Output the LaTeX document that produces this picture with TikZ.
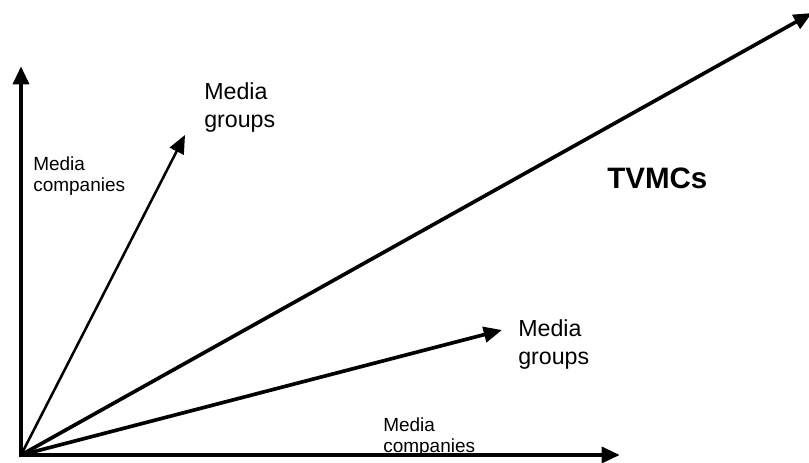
\documentclass[tikz,border=0pt]{standalone}
\usepackage{fontspec}
\setmainfont{Liberation Sans}
\usetikzlibrary{arrows.meta}
\begin{document}
\begin{tikzpicture}[x=0.025cm,y=0.025cm,
  axis/.style={line width=3.3pt,{Triangle[length=13pt,width=11pt]}-{Triangle[length=13pt,width=11pt]}},
  vec/.style={line width=2.6pt,-{Triangle[length=13pt,width=11pt]}},
  smalllab/.style={anchor=north west,inner sep=0pt,align=left,font=\fontsize{13.5}{15.5}\selectfont},
  biglab/.style={anchor=north west,inner sep=0pt,align=left,font=\fontsize{16.5}{20}\selectfont}]
\useasboundingbox (0,0) rectangle (809,462);
\coordinate (O) at (21,7);
\coordinate (ytip) at (21,396);
\coordinate (xtip) at (620,7);
\coordinate (grouptip) at (185,327);
\coordinate (tvtip) at (812,449);
\coordinate (lowtip) at (502,132);
% axes
\draw[axis] (ytip) -- (O) -- (xtip);
% vectors
\draw[vec,line width=1.8pt] (O) -- (grouptip);
\draw[vec] (O) -- (tvtip);
\draw[vec] (O) -- (lowtip);
% labels
\node[smalllab] (ycomp) at (33,306) {Media\\companies};
\node[biglab] (ygroup) at (204,380) {Media\\groups};
\node[font=\fontsize{21}{25}\selectfont\bfseries,anchor=north west,inner sep=0pt] (tvmc) at (607,294) {TVMCs};
\node[biglab] (xgroup) at (518,143) {Media\\groups};
\node[smalllab] (xcomp) at (383,45) {Media\\companies};
\end{tikzpicture}
\end{document}
